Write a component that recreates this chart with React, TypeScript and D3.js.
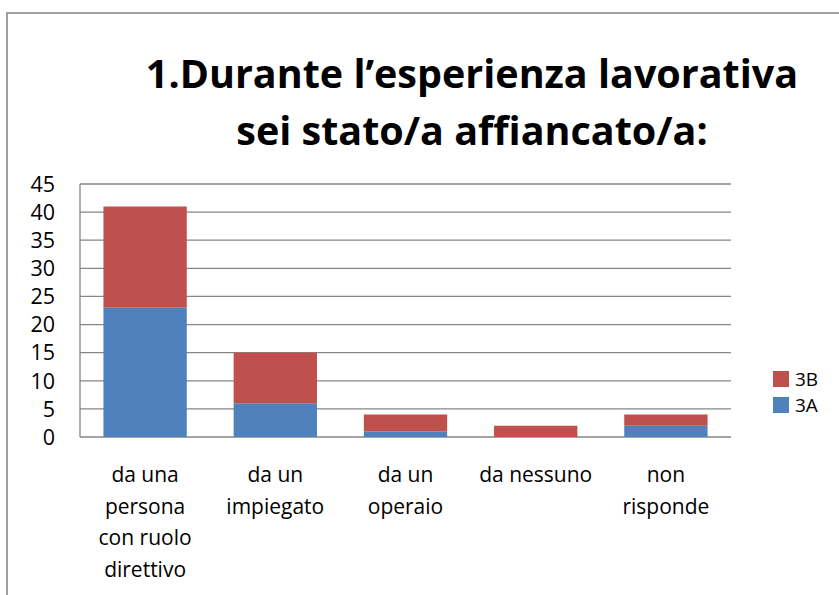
import React from 'react';
import * as d3 from 'd3';

// chart data
const categories = ['da una persona con ruolo direttivo', 'da un impiegato', 'da un operaio', 'da nessuno', 'non risponde'];
const categoryLines = [
  ['da una', 'persona', 'con ruolo', 'direttivo'],
  ['da un', 'impiegato'],
  ['da un', 'operaio'],
  ['da nessuno'],
  ['non', 'risponde'],
];
const series3A = [23, 6, 1, 0, 2];
const series3B = [18, 9, 3, 2, 2];
const seriesNames = ['3A', '3B'];
const seriesColors = ['#4F81BD', '#C0504D'];
const yTicks = [0, 5, 10, 15, 20, 25, 30, 35, 40, 45];
const titleLines = ['1.Durante l\u2019esperienza lavorativa', 'sei stato/a affiancato/a:'];

const W = 839;
const H = 595;
const plot = { left: 80, right: 731, top: 184, bottom: 437 };
const FONT = '"Open Sans", sans-serif';

export default function App() {
  const x = d3.scaleBand<string>()
    .domain(categories)
    .range([plot.left, plot.right])
    .paddingInner(0.36)
    .paddingOuter(0.18);
  const y = d3.scaleLinear().domain([0, 45]).range([plot.bottom, plot.top]);

  const rows = categories.map((c, i) => ({ cat: c, '3A': series3A[i], '3B': series3B[i] }));
  const stacked = d3.stack<any>().keys(seriesNames)(rows);

  return (
    <svg width={W} height={H} style={{ position: 'absolute', left: 0, top: 0, background: '#fff' }}>
      <rect x={7} y={13} width={900} height={700} fill="#fff" stroke="#888" strokeWidth={1.6} />

      {titleLines.map((t, i) => (
        <text key={t} x={472} y={88 + i * 57} textAnchor="middle" fontFamily={FONT}
          fontWeight="bold" fontSize={39.5} fill="#000">{t}</text>
      ))}

      {/* gridlines */}
      {yTicks.map(t => (
        <line key={t} x1={plot.left} x2={plot.right} y1={y(t)} y2={y(t)} stroke="#868686" strokeWidth={1.3} />
      ))}
      <line x1={plot.left} x2={plot.left} y1={plot.top} y2={plot.bottom} stroke="#868686" strokeWidth={1.3} />

      {/* bars */}
      {stacked.map((s, si) => (
        <g key={s.key}>
          {s.map((d, i) => (
            d[1] - d[0] > 0 ? (
              <rect key={i} x={x(categories[i])} y={y(d[1])} width={x.bandwidth()}
                height={y(d[0]) - y(d[1])} fill={seriesColors[si]} />
            ) : null
          ))}
        </g>
      ))}

      {/* y labels */}
      {yTicks.map(t => (
        <text key={t} x={55} y={y(t)} dy="0.36em" textAnchor="end" fontFamily={FONT} fontSize={21.5} fill="#000">{t}</text>
      ))}

      {/* x labels */}
      {categories.map((c, i) => (
        <text key={c} textAnchor="middle" fontFamily={FONT} fontSize={21} fill="#000">
          {categoryLines[i].map((l, j) => (
            <tspan key={j} x={(x(c) as number) + x.bandwidth() / 2} y={482 + j * 31.5}>{l}</tspan>
          ))}
        </text>
      ))}

      {/* legend, 3B on top */}
      {[1, 0].map((si, k) => (
        <g key={si} transform={`translate(773, ${379 + k * 26})`}>
          <rect x={0} y={-8} width={16} height={16} fill={seriesColors[si]} />
          <text x={22} y={0} dy="0.36em" fontFamily={FONT} fontSize={19} fill="#000">{seriesNames[si]}</text>
        </g>
      ))}
    </svg>
  );
}
